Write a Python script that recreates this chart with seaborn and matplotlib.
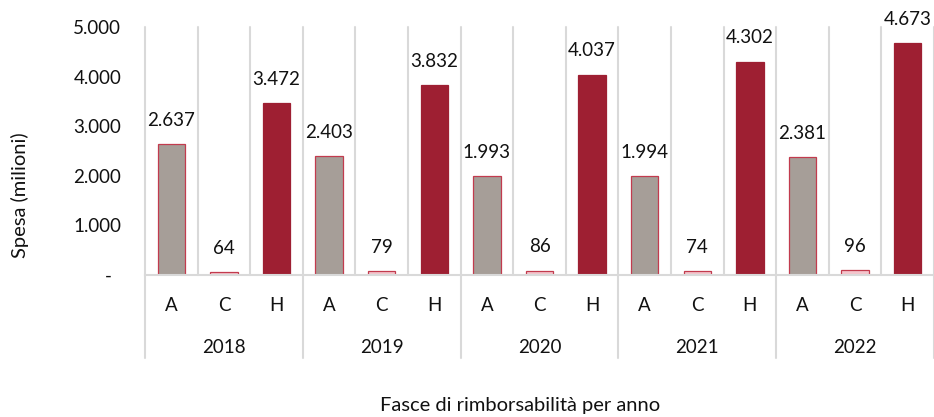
import matplotlib
matplotlib.use("Agg")
import matplotlib.pyplot as plt
import seaborn as sns
import pandas as pd
from matplotlib.ticker import FuncFormatter, FixedLocator

# Spending (millions) by reimbursement class and year
years = ["2018", "2019", "2020", "2021", "2022"]
fasce = ["A", "C", "H"]
spesa_A = [2637, 2403, 1993, 1994, 2381]
spesa_C = [64, 79, 86, 74, 96]
spesa_H = [3472, 3832, 4037, 4302, 4673]
y_ticks = [0, 1000, 2000, 3000, 4000, 5000]

fill_colors = {"A": "#A69E98", "C": "#F4C5CC", "H": "#9E1F32"}
edge_colors = {"A": "#C23B4E", "C": "#C23B4E", "H": "#9E1F32"}
grid_color = "#D9D9D9"
text_color = "#111111"
fs = 13.5

rows = []
for i, yr in enumerate(years):
    for f, vals in zip(fasce, [spesa_A, spesa_C, spesa_H]):
        rows.append({"pos": f"{yr}-{f}", "anno": yr, "fascia": f, "spesa": vals[i]})
df = pd.DataFrame(rows)
order = list(df["pos"])


def it_num(v):
    return f"{int(round(v)):,}".replace(",", ".")


sns.set_theme(style="white")
plt.rcParams["font.family"] = ["Lato", "DejaVu Sans"]

fig = plt.figure(figsize=(9.34, 4.17), dpi=100)
ax = fig.add_axes([145 / 934, 1 - 275 / 417, 789 / 934, 248 / 417])

sns.barplot(data=df, x="pos", y="spesa", hue="fascia", order=order,
            hue_order=fasce, palette=fill_colors, saturation=1, dodge=False,
            width=0.52, legend=False, ax=ax, zorder=3)

# bar outlines and value labels
for patch, (_, r) in zip(sorted(ax.patches, key=lambda p: p.get_x()), df.iterrows()):
    patch.set_edgecolor(edge_colors[r["fascia"]])
    patch.set_linewidth(0.9)
    ax.annotate(it_num(r["spesa"]),
                (patch.get_x() + patch.get_width() / 2, patch.get_height()),
                xytext=(0, 11), textcoords="offset points",
                ha="center", va="bottom", fontsize=fs, color=text_color,
                annotation_clip=False)

n = len(order)
ax.set_xlim(-0.5, n - 0.5)
ax.set_ylim(0, 5000)

# vertical separators between categories
for b in range(n + 1):
    ax.axvline(b - 0.5, color=grid_color, lw=1.5, zorder=1, clip_on=False)

for s in ["left", "right", "top"]:
    ax.spines[s].set_visible(False)
ax.spines["bottom"].set_color(grid_color)
ax.spines["bottom"].set_linewidth(1.5)
ax.spines["bottom"].set_zorder(4)

ax.yaxis.set_major_locator(FixedLocator(y_ticks))
ax.yaxis.set_major_formatter(
    FuncFormatter(lambda v, p: "-  " if v == 0 else it_num(v)))
ax.tick_params(axis="y", length=0, pad=17, labelsize=fs, labelcolor=text_color)
ax.set_xticks([])
ax.set_xlabel("")
ax.set_ylabel("")

# two-level category axis
trans = ax.get_xaxis_transform()
for i, r in df.iterrows():
    ax.text(i, -0.121, r["fascia"], transform=trans, ha="center", va="center",
            fontsize=fs, color=text_color)
for j, yr in enumerate(years):
    ax.text(j * 3 + 1, -0.294, yr, transform=trans, ha="center", va="center",
            fontsize=fs, color=text_color)
for j in range(len(years) + 1):
    ax.plot([j * 3 - 0.5, j * 3 - 0.5], [0, -0.335], transform=trans,
            color=grid_color, lw=1.5, clip_on=False)

fig.text(20 / 934, 1 - 195 / 417, "Spesa (milioni)", rotation=90,
         ha="center", va="center", fontsize=14.5, color=text_color)
fig.text(520 / 934, 1 - 405 / 417, "Fasce di rimborsabilità per anno",
         ha="center", va="center", fontsize=14.5, color=text_color)

fig.savefig("out.png", dpi=100)
